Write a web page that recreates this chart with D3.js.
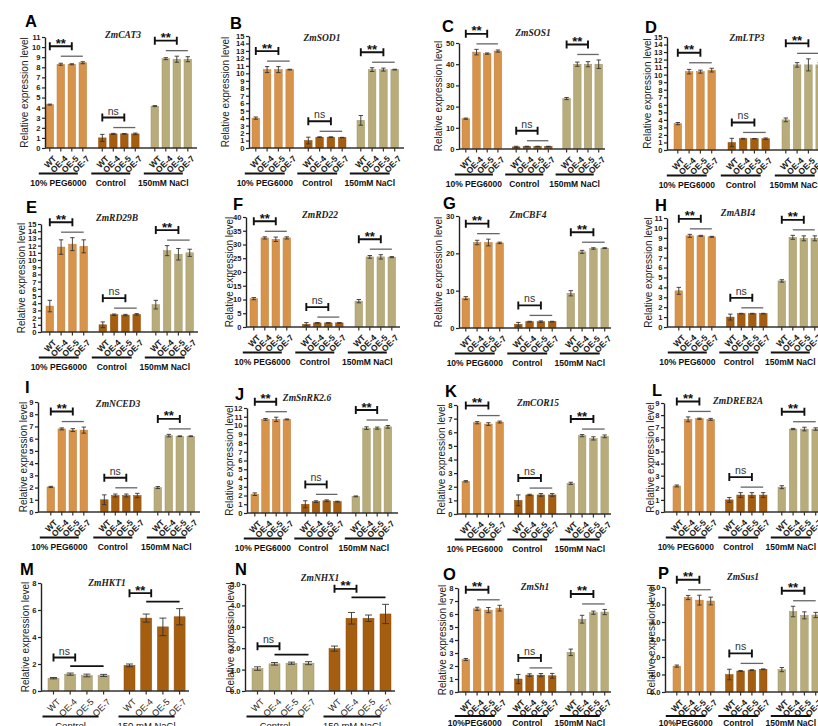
<!DOCTYPE html>
<html><head><meta charset="utf-8">
<script src="https://cdn.jsdelivr.net/npm/d3@7"></script>
<style>
html,body{margin:0;padding:0;background:#fff;}
svg{display:block;font-family:"Liberation Sans",Arial,sans-serif;}
</style></head>
<body>
<svg id="chart" width="818" height="726"></svg>
<script>
// ---------- data ----------
const lines = ["WT", "OE-4", "OE-5", "OE-7"];
const treatments = ["10% PEG6000", "Control", "150mM NaCl"];
const treatmentsO = ["10%PEG6000", "Control", "150mM NaCl"];
const treatmentsMN = ["Control", "150 mM NaCl"];
const letters = ["A","B","C","D","E","F","G","H","I","J","K","L","M","N","O","P"];
const genes = ["ZmCAT3","ZmSOD1","ZmSOS1","ZmLTP3","ZmRD29B","ZmRD22","ZmCBF4","ZmABI4",
               "ZmNCED3","ZmSnRK2.6","ZmCOR15","ZmDREB2A","ZmHKT1","ZmNHX1","ZmSh1","ZmSus1"];
const yMax  = [11, 15, 50, 15, 15, 40, 30, 11, 9, 12, 8, 9, 8, 5, 8, 6];
const yStep = [1, 1, 10, 1, 1, 5, 10, 1, 1, 1, 1, 1, 2, 1, 1, 1];

// means / errors, order: treatment groups x lines
const CAT3_mean = [4.3, 8.3, 8.3, 8.45,  1.0, 1.4, 1.4, 1.4,  4.15, 8.85, 8.8, 8.8];
const CAT3_err  = [0.05, 0.1, 0.05, 0.1,  0.35, 0.05, 0.03, 0.08,  0.05, 0.1, 0.3, 0.25];
const SOD1_mean = [4.0, 10.5, 10.5, 10.5,  1.0, 1.45, 1.45, 1.4,  3.7, 10.5, 10.5, 10.5];
const SOD1_err  = [0.15, 0.4, 0.4, 0.05,  0.45, 0.05, 0.05, 0.03,  0.65, 0.25, 0.2, 0.05];
const SOS1_mean = [14.3, 45.7, 45.0, 46.2,  1.0, 1.2, 1.2, 1.2,  23.8, 40.0, 40.0, 40.0];
const SOS1_err  = [0.3, 1.3, 0.3, 0.5,  0.3, 0.1, 0.1, 0.1,  0.5, 1.0, 1.2, 2.0];
const LTP3_mean = [3.5, 10.4, 10.4, 10.6,  1.0, 1.5, 1.5, 1.5,  4.0, 11.3, 11.3, 11.3];
const LTP3_err  = [0.15, 0.3, 0.2, 0.25,  0.55, 0.05, 0.03, 0.1,  0.25, 0.3, 0.8, 0.3];
const RD29B_mean = [3.6, 11.8, 12.2, 11.9,  1.0, 2.4, 2.35, 2.45,  3.8, 11.3, 10.8, 11.0];
const RD29B_err  = [0.8, 1.0, 0.9, 0.9,  0.4, 0.1, 0.1, 0.1,  0.6, 0.7, 0.8, 0.5];
const RD22_mean = [10.3, 32.4, 31.9, 32.4,  1.0, 1.5, 1.5, 1.5,  9.4, 25.5, 25.5, 25.4];
const RD22_err  = [0.4, 0.4, 0.8, 0.4,  0.6, 0.1, 0.1, 0.1,  0.6, 0.5, 0.8, 0.2];
const CBF4_mean = [8.0, 22.9, 22.9, 22.8,  1.0, 1.7, 1.7, 1.7,  9.3, 20.4, 21.3, 21.4];
const CBF4_err  = [0.4, 0.6, 0.9, 0.2,  0.5, 0.1, 0.2, 0.1,  0.7, 0.4, 0.2, 0.1];
const ABI4_mean = [3.65, 9.2, 9.2, 9.1,  1.0, 1.35, 1.35, 1.35,  4.65, 9.05, 8.95, 8.95];
const ABI4_err  = [0.35, 0.15, 0.05, 0.05,  0.3, 0.03, 0.03, 0.03,  0.12, 0.2, 0.25, 0.25];
const NCED3_mean = [2.05, 6.8, 6.7, 6.7,  1.0, 1.35, 1.35, 1.35,  2.0, 6.25, 6.2, 6.2];
const NCED3_err  = [0.05, 0.08, 0.12, 0.25,  0.4, 0.12, 0.12, 0.18,  0.08, 0.1, 0.03, 0.03];
const SnRK26_mean = [2.15, 10.7, 10.7, 10.7,  1.0, 1.3, 1.4, 1.3,  1.9, 9.7, 9.7, 9.85];
const SnRK26_err  = [0.15, 0.1, 0.25, 0.05,  0.4, 0.1, 0.1, 0.05,  0.05, 0.15, 0.12, 0.15];
const COR15_mean = [2.4, 6.7, 6.6, 6.75,  1.0, 1.4, 1.4, 1.4,  2.25, 5.75, 5.55, 5.7];
const COR15_err  = [0.05, 0.08, 0.1, 0.07,  0.4, 0.05, 0.1, 0.1,  0.08, 0.08, 0.12, 0.1];
const DREB2A_mean = [2.15, 7.65, 7.7, 7.65,  1.0, 1.4, 1.4, 1.4,  2.05, 6.85, 6.85, 6.85];
const DREB2A_err  = [0.08, 0.2, 0.05, 0.08,  0.2, 0.2, 0.2, 0.2,  0.12, 0.05, 0.15, 0.1];
const HKT1_mean = [0.95, 1.25, 1.15, 1.15,  1.9, 5.4, 4.75, 5.5];
const HKT1_err  = [0.05, 0.08, 0.1, 0.08,  0.1, 0.3, 0.65, 0.6];
const NHX1_mean = [1.05, 1.27, 1.3, 1.3,  1.98, 3.4, 3.4, 3.6];
const NHX1_err  = [0.08, 0.06, 0.05, 0.07,  0.12, 0.27, 0.15, 0.45];
const Sh1_mean = [2.5, 6.4, 6.3, 6.45,  1.0, 1.3, 1.3, 1.25,  3.05, 5.6, 6.1, 6.15];
const Sh1_err  = [0.08, 0.12, 0.2, 0.22,  0.35, 0.1, 0.12, 0.18,  0.25, 0.3, 0.12, 0.2];
const Sus1_mean = [1.48, 5.4, 5.25, 5.2,  1.0, 1.2, 1.25, 1.3,  1.28, 4.6, 4.38, 4.4];
const Sus1_err  = [0.06, 0.12, 0.28, 0.22,  0.3, 0.03, 0.02, 0.02,  0.12, 0.3, 0.2, 0.15];

const allMeans = [CAT3_mean, SOD1_mean, SOS1_mean, LTP3_mean, RD29B_mean, RD22_mean, CBF4_mean, ABI4_mean,
                  NCED3_mean, SnRK26_mean, COR15_mean, DREB2A_mean, HKT1_mean, NHX1_mean, Sh1_mean, Sus1_mean];
const allErrs  = [CAT3_err, SOD1_err, SOS1_err, LTP3_err, RD29B_err, RD22_err, CBF4_err, ABI4_err,
                  NCED3_err, SnRK26_err, COR15_err, DREB2A_err, HKT1_err, NHX1_err, Sh1_err, Sus1_err];

// ---------- layout ----------
const C_PEG = "#d8934b", C_CTRL = "#a55d10", C_NACL = "#b9ac7b";
const layout = [
 {ax:45, top:37, zero:148, x0:46, pitch:11, gp:52.5, end:197, lx:25, ly:27, tx:123, ty:38, yl:24},
 {ax:249, top:36, zero:148, x0:252, pitch:11.3, gp:52.5, end:404, lx:230, ly:29, tx:322, ty:41, yl:225},
 {ax:459, top:43, zero:149, x0:462, pitch:10.7, gp:50.4, end:605, lx:442, ly:32, tx:533, ty:36, yl:438},
 {ax:667, top:37, zero:150, x0:674, pitch:11.3, gp:54, end:830, lx:645, ly:33, tx:747, ty:41, yl:647},
 {ax:41, top:224, zero:332, x0:46, pitch:11.3, gp:53, end:198, lx:26, ly:213, tx:117, ty:221, yl:21},
 {ax:246, top:217, zero:327, x0:250, pitch:11, gp:52.5, end:400, lx:233, ly:210, tx:320, ty:218, yl:229},
 {ax:459, top:216, zero:328, x0:462, pitch:11.3, gp:52.5, end:611, lx:443, ly:209, tx:528, ty:218, yl:438},
 {ax:667, top:218, zero:327, x0:675, pitch:11, gp:51.5, end:830, lx:655, ly:211, tx:738, ty:216, yl:648},
 {ax:38, top:402, zero:512, x0:47, pitch:11, gp:53.5, end:200, lx:25, ly:393, tx:118, ty:407, yl:23},
 {ax:247, top:408, zero:513, x0:251, pitch:10.7, gp:50.5, end:398, lx:235, ly:400, tx:307, ty:401, yl:229},
 {ax:457, top:405, zero:514, x0:462, pitch:11.3, gp:52.5, end:611, lx:445, ly:397, tx:538, ty:406, yl:441},
 {ax:664, top:403, zero:512, x0:673, pitch:11.3, gp:52.5, end:830, lx:652, ly:396, tx:738, ty:404, yl:650},
 {ax:41, top:583, zero:691, x0:48, pitch:16.7, gp:76, end:189, lx:20, ly:575, tx:107, ty:586, yl:25, bw:11, mn:true},
 {ax:245, top:584, zero:691, x0:252, pitch:17, gp:77, end:395, lx:235, ly:575, tx:320, ty:581, yl:230, bw:11, mn:true},
 {ax:458, top:588, zero:692, x0:462, pitch:11.3, gp:52.5, end:611, lx:443, ly:580, tx:535, ty:590, yl:442, ul:24, gl:34},
 {ax:665, top:587, zero:692, x0:673, pitch:11.3, gp:52.5, end:830, lx:658, ly:579, tx:743, ty:580, yl:651, ul:24, gl:34}
];

const svg = d3.select("#chart");
svg.append("rect").attr("width", 818).attr("height", 726).attr("fill", "#fff");

layout.forEach((L, p) => {
  const mn = !!L.mn;
  const groups = mn ? treatmentsMN : (p >= 14 ? treatmentsO : treatments);
  const colors = mn ? [C_NACL, C_CTRL] : [C_PEG, C_CTRL, C_NACL];
  const means = allMeans[p], errs = allErrs[p];
  const bw = L.bw || 7.6;
  const g = svg.append("g");

  const y = d3.scaleLinear().domain([0, yMax[p]]).range([L.zero, L.top]);
  const xg = d3.scalePoint().domain(groups).range([L.x0, L.x0 + (groups.length - 1) * L.gp]);
  const xb = d3.scalePoint().domain(lines).range([0, 3 * L.pitch]);
  const cx = (t, l) => xg(t) + xb(l) + bw / 2;

  const data = [];
  groups.forEach((t, gi) => lines.forEach((l, li) => {
    const k = gi * 4 + li;
    data.push({t, l, gi, li, m: means[k], e: errs[k]});
  }));

  // bars
  g.selectAll("rect.bar").data(data).enter().append("rect")
    .attr("x", d => xg(d.t) + xb(d.l))
    .attr("width", bw)
    .attr("y", d => y(d.m))
    .attr("height", d => y(0) - y(d.m))
    .attr("fill", d => colors[d.gi])
    .attr("stroke", d => d3.color(colors[d.gi]).darker(0.4))
    .attr("stroke-width", 0.5);

  // error bars
  const cap = mn ? 3.5 : 2.2;
  const eb = g.selectAll("g.eb").data(data).enter().append("g")
    .attr("stroke", "#333").attr("stroke-width", 0.9);
  eb.append("line").attr("x1", d => cx(d.t, d.l)).attr("x2", d => cx(d.t, d.l))
    .attr("y1", d => y(d.m - d.e)).attr("y2", d => y(d.m + d.e));
  eb.append("line").attr("x1", d => cx(d.t, d.l) - cap).attr("x2", d => cx(d.t, d.l) + cap)
    .attr("y1", d => y(d.m + d.e)).attr("y2", d => y(d.m + d.e));
  eb.append("line").attr("x1", d => cx(d.t, d.l) - cap).attr("x2", d => cx(d.t, d.l) + cap)
    .attr("y1", d => y(d.m - d.e)).attr("y2", d => y(d.m - d.e));

  // y axis
  const ticks = d3.range(0, yMax[p] + yStep[p] / 2, yStep[p]);
  const ya = g.append("g").attr("transform", `translate(${L.ax},0)`)
    .call(d3.axisLeft(y).tickValues(ticks).tickSize(3).tickPadding(1.5).tickSizeOuter(0));
  ya.select(".domain").attr("stroke", "#222").attr("stroke-width", 1.4);
  ya.selectAll(".tick line").attr("stroke", "#222").attr("stroke-width", 1.2);
  ya.selectAll(".tick text").attr("font-size", 7.6).attr("font-weight", "bold")
    .attr("fill", "#222").attr("font-family", "Liberation Sans, Arial, sans-serif");

  // x axis line
  g.append("line").attr("x1", L.ax).attr("x2", L.end).attr("y1", L.zero).attr("y2", L.zero)
    .attr("stroke", "#333").attr("stroke-width", 1.6);
  // x ticks & labels
  g.selectAll("line.xt").data(data).enter().append("line")
    .attr("x1", d => cx(d.t, d.l)).attr("x2", d => cx(d.t, d.l))
    .attr("y1", L.zero).attr("y2", L.zero + 3.5)
    .attr("stroke", "#333").attr("stroke-width", 1.2);
  g.selectAll("text.xl").data(data).enter().append("text")
    .attr("transform", d => `translate(${cx(d.t, d.l) + 3},${L.zero + 7}) rotate(-45)`)
    .attr("text-anchor", "end").attr("dy", "0.7em")
    .attr("font-size", mn ? 9 : 8.5).attr("font-weight", mn ? "normal" : "bold")
    .attr("fill", "#222")
    .text(d => d.l);

  // group underlines & labels
  const ul = L.ul || 25.5, gl = L.gl || 38;
  groups.forEach(t => {
    const a = cx(t, "WT") - 11, b = cx(t, "OE-7") - 5;
    g.append("line").attr("x1", a).attr("x2", b).attr("y1", L.zero + ul).attr("y2", L.zero + ul)
      .attr("stroke", "#111").attr("stroke-width", 1.8);
    g.append("text").attr("x", (a + b) / 2).attr("y", L.zero + gl)
      .attr("text-anchor", "middle").attr("font-size", mn ? 9.5 : 8.5)
      .attr("font-weight", mn ? "normal" : "bold").attr("fill", "#111").text(t);
  });

  // significance brackets
  groups.forEach((t, gi) => {
    const grp = data.filter(d => d.gi === gi);
    const topV = d3.max(grp, d => d.m + d.e);
    const lineY = y(topV) - (mn ? 7 : 5.5);
    const brY = lineY - (mn ? 8.5 : 10);
    const isNs = t === "Control";
    const bx1 = cx(t, "WT"), bx2 = mn ? cx(t, "OE-4") + 5 : cx(t, "OE-5");
    g.append("line").attr("x1", cx(t, "OE-4")).attr("x2", cx(t, "OE-7"))
      .attr("y1", lineY).attr("y2", lineY)
      .attr("stroke", mn ? "#111" : "#666").attr("stroke-width", mn ? 1.8 : 1.3);
    g.append("path")
      .attr("d", `M${bx1},${brY - 4}V${brY + 4}M${bx1},${brY}H${bx2}M${bx2},${brY - 4}V${brY + 4}`)
      .attr("fill", "none").attr("stroke", "#111").attr("stroke-width", 1.9);
    g.append("text").attr("x", (bx1 + bx2) / 2)
      .attr("y", isNs ? brY - 3 : brY + 1.5)
      .attr("text-anchor", "middle")
      .attr("font-size", isNs ? 10.5 : 13).attr("font-weight", isNs ? "normal" : "bold")
      .attr("fill", isNs ? "#333" : "#111")
      .text(isNs ? "ns" : "**");
  });

  // y axis title
  g.append("text").attr("transform", `translate(${L.yl},${(L.top + L.zero) / 2}) rotate(-90)`)
    .attr("text-anchor", "middle").attr("dy", "0.35em")
    .attr("font-size", 10).attr("fill", "#222").text("Relative expression level");

  // gene title
  g.append("text").attr("x", L.tx).attr("y", L.ty).attr("text-anchor", "middle")
    .attr("font-family", "Liberation Serif, 'Times New Roman', serif")
    .attr("font-style", "italic").attr("font-weight", "bold")
    .attr("font-size", 9.5).attr("fill", "#222").text(genes[p]);

  // panel letter
  g.append("text").attr("x", L.lx).attr("y", L.ly)
    .attr("font-size", 16.5).attr("font-weight", "bold").attr("fill", "#000").text(letters[p]);
});
</script>
</body></html>
